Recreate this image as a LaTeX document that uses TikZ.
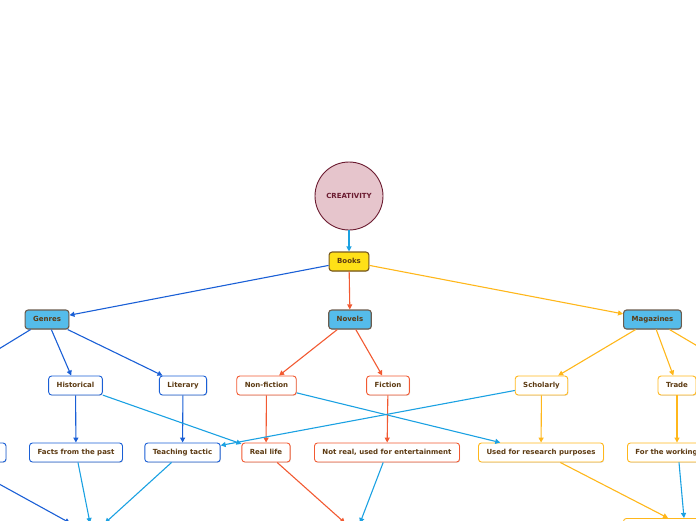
\documentclass[tikz,border=0pt]{standalone}
\usepackage{fontspec}
\setmainfont{DejaVu Sans}
\usetikzlibrary{arrows.meta,shadows}
\definecolor{txtbrown}{HTML}{5C3A12}
\definecolor{creafill}{HTML}{E6C5CC}
\definecolor{creaedge}{HTML}{6B1B30}
\definecolor{booksfill}{HTML}{FFE017}
\definecolor{booksedge}{HTML}{7A5A1E}
\definecolor{topicfill}{HTML}{55BCEA}
\definecolor{topicedge}{HTML}{6B5C4E}
\definecolor{darkblue}{HTML}{1A5FD6}
\definecolor{lightblue}{HTML}{1BA1E2}
\definecolor{redorange}{HTML}{F25A32}
\definecolor{goldline}{HTML}{FFB71B}
\begin{document}
\begin{tikzpicture}[x=1pt, y=-1pt,
		font=\fontsize{7}{8}\selectfont\bfseries,
		softshadow/.style={drop shadow={shadow xshift=0.7pt, shadow yshift=-0.8pt, opacity=0.25}},
		topic/.style={draw=topicedge, fill=topicfill, line width=1.1pt, rounded corners=3pt,
			minimum height=19pt, inner xsep=8pt, inner ysep=0pt, text height=5.5pt,
			text depth=1.5pt, text=txtbrown, softshadow},
		leaf/.style={fill=white, line width=0.9pt, rounded corners=3pt,
			minimum height=19pt, inner xsep=8pt, inner ysep=0pt, text height=5.5pt,
			text depth=1.5pt, text=txtbrown, softshadow},
		link/.style={line width=1.1pt, -{Triangle[length=5pt, width=5pt]}}]
	\useasboundingbox (0,0) rectangle (696,520);
	\clip (0,0) rectangle (696,520);
	\node[circle, draw=creaedge, fill=creafill, line width=0.9pt, minimum size=68pt,
		inner sep=0pt, text=creaedge] (creativity) at (349,196) {CREATIVITY};
	\node[topic, draw=booksedge, fill=booksfill] (books) at (349,261.5) {Books};
	\node[topic] (genres) at (47,319.5) {Genres};
	\node[topic] (novels) at (350,319.5) {Novels};
	\node[topic] (magazines) at (652.5,319.5) {Magazines};
	\node[leaf, draw=darkblue] (historical) at (75.5,385.5) {Historical};
	\node[leaf, draw=darkblue] (literary) at (183,385.5) {Literary};
	\node[leaf, draw=redorange] (nonfiction) at (266.5,385.5) {Non-fiction};
	\node[leaf, draw=redorange] (fiction) at (388,385.5) {Fiction};
	\node[leaf, draw=goldline] (scholarly) at (541.5,385.5) {Scholarly};
	\node[leaf, draw=goldline] (trade) at (677,385.5) {Trade};
	\node[leaf, draw=darkblue, minimum width=92pt] (leftbox) at (-40,452.5) {};
	\node[leaf, draw=darkblue] (facts) at (76,452.5) {Facts from the past};
	\node[leaf, draw=darkblue] (teaching) at (182.5,452.5) {Teaching tactic};
	\node[leaf, draw=redorange] (reallife) at (266,452.5) {Real life};
	\node[leaf, draw=redorange] (notreal) at (387,452.5) {Not real, used for entertainment};
	\node[leaf, draw=goldline] (research) at (541,452.5) {Used for research purposes};
	\node[leaf, draw=goldline, anchor=west, text width=120pt, align=left] (working) at (627,452.5) {For the working};
	\node[leaf, draw=goldline, anchor=north west, minimum width=120pt] (lowright) at (623,518) {};
	\coordinate (offleft) at (-47,377);
	\coordinate (offright) at (750,377);
	\coordinate (lowA) at (70,523);
	\coordinate (lowB) at (90,523);
	\coordinate (lowC) at (105,523);
	\coordinate (lowD) at (345,523);
	\coordinate (lowE) at (360,523);
	\draw[link, lightblue] (creativity) -- (books);
	\draw[link, darkblue] (books) -- (genres);
	\draw[link, redorange] (books) -- (novels);
	\draw[link, goldline] (books) -- (magazines);
	\draw[link, darkblue] (genres) -- (offleft);
	\draw[link, darkblue] (genres) -- (historical);
	\draw[link, darkblue] (genres) -- (literary);
	\draw[link, redorange] (novels) -- (nonfiction);
	\draw[link, redorange] (novels) -- (fiction);
	\draw[link, goldline] (magazines) -- (scholarly);
	\draw[link, goldline] (magazines) -- (trade);
	\draw[link, goldline] (magazines) -- (offright);
	\draw[link, darkblue] (historical) -- (facts);
	\draw[link, darkblue] (literary) -- (teaching);
	\draw[link, lightblue] (historical) -- (reallife);
	\draw[link, redorange] (nonfiction) -- (reallife);
	\draw[link, lightblue] (nonfiction) -- (research);
	\draw[link, redorange] (fiction) -- (notreal);
	\draw[link, lightblue] (scholarly) -- (teaching);
	\draw[link, goldline] (scholarly) -- (research);
	\draw[link, goldline] (trade.south) -- (trade.south |- working.north);
	\draw[link, darkblue] (leftbox.south) -- (lowA);
	\draw[link, lightblue] (facts) -- (lowB);
	\draw[link, lightblue] (teaching) -- (lowC);
	\draw[link, redorange] (reallife) -- (lowD);
	\draw[link, lightblue] (notreal) -- (lowE);
	\draw[link, goldline] (research) -- ([xshift=45pt]lowright.north west);
	\draw[link, lightblue] ([xshift=52pt]working.south west) -- ([xshift=61pt]lowright.north west);
\end{tikzpicture}
\end{document}
